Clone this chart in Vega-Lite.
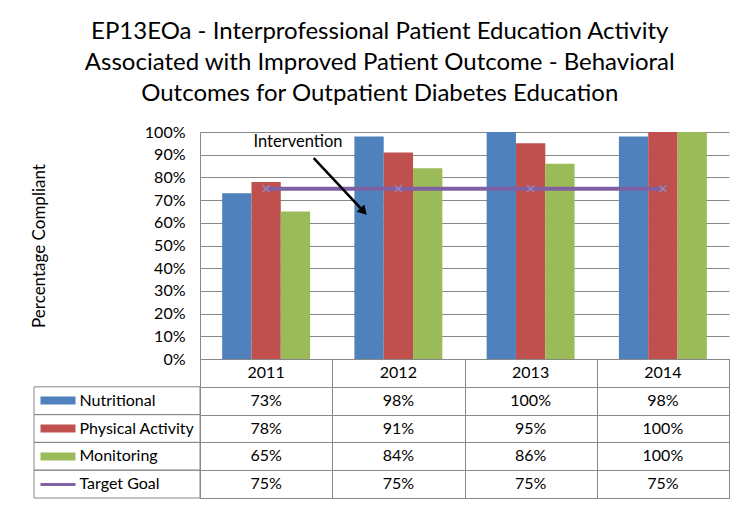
{
  "$schema": "https://vega.github.io/schema/vega-lite/v6.json",
  "background": "white",
  "padding": {"left": 30, "top": 20, "right": 18, "bottom": 10},
  "title": {
    "text": ["EP13EOa - Interprofessional Patient Education Activity", "Associated with Improved Patient Outcome - Behavioral", "Outcomes for Outpatient Diabetes Education"],
    "font": "Lato", "fontSize": 24, "fontWeight": "normal", "color": "black", "lineHeight": 31, "anchor": "middle", "offset": 18
  },
  "datasets": {
    "scores": [
      {"year": "2011", "series": "Nutritional", "value": 0.73},
      {"year": "2011", "series": "Physical Activity", "value": 0.78},
      {"year": "2011", "series": "Monitoring", "value": 0.65},
      {"year": "2011", "series": "Target Goal", "value": 0.75},
      {"year": "2012", "series": "Nutritional", "value": 0.98},
      {"year": "2012", "series": "Physical Activity", "value": 0.91},
      {"year": "2012", "series": "Monitoring", "value": 0.84},
      {"year": "2012", "series": "Target Goal", "value": 0.75},
      {"year": "2013", "series": "Nutritional", "value": 1.0},
      {"year": "2013", "series": "Physical Activity", "value": 0.95},
      {"year": "2013", "series": "Monitoring", "value": 0.86},
      {"year": "2013", "series": "Target Goal", "value": 0.75},
      {"year": "2014", "series": "Nutritional", "value": 0.98},
      {"year": "2014", "series": "Physical Activity", "value": 1.0},
      {"year": "2014", "series": "Monitoring", "value": 1.0},
      {"year": "2014", "series": "Target Goal", "value": 0.75}
    ]
  },
  "columns": 2,
  "spacing": 0,
  "bounds": "flush",
  "concat": [
    {
      "width": 166, "height": 227,
      "data": {"values": []},
      "mark": "text",
      "encoding": {}
    },
    {
      "width": 529, "height": 227,
      "data": {"name": "scores"},
      "layer": [
        {
          "transform": [{"filter": "datum.series !== 'Target Goal'"}],
          "mark": {"type": "bar"},
          "encoding": {
            "x": {"field": "year", "type": "nominal", "scale": {"paddingInner": 0.335, "paddingOuter": 0.1675}, "axis": null},
            "xOffset": {"field": "series", "type": "nominal", "sort": ["Nutritional", "Physical Activity", "Monitoring"], "scale": {"paddingInner": 0, "paddingOuter": 0}},
            "y": {
              "field": "value", "type": "quantitative", "scale": {"domain": [0, 1], "nice": false},
              "axis": {
                "values": [0, 0.1, 0.2, 0.3, 0.4, 0.5, 0.6, 0.7, 0.8, 0.9, 1],
                "tickCount": 20, "labelOverlap": false,
                "format": ".0%", "grid": true, "gridColor": "#888888", "gridWidth": 1,
                "domain": true, "domainColor": "#888888", "ticks": false, "labelPadding": 15,
                "labelFont": "Lato", "labelFontSize": 16, "labelColor": "black",
                "title": "Percentage Compliant", "titleFont": "Lato", "titleFontSize": 17, "titleFontWeight": "normal", "titleColor": "black",
                "titleX": -161, "titleY": 113.5, "titleAngle": 270, "titleAlign": "center", "titleBaseline": "middle"
              }
            },
            "color": {
              "field": "series", "type": "nominal",
              "scale": {"domain": ["Nutritional", "Physical Activity", "Monitoring", "Target Goal"], "range": ["#4f81bd", "#c0504d", "#9bbb59", "#8064a2"]},
              "legend": null
            }
          }
        },
        {
          "transform": [{"filter": "datum.series === 'Target Goal'"}],
          "mark": {"type": "line", "color": "#7f60a2", "strokeWidth": 4},
          "encoding": {
            "x": {"field": "year", "type": "nominal", "scale": {"type": "point", "padding": 0.5}, "axis": null},
            "y": {"field": "value", "type": "quantitative"}
          }
        },
        {
          "transform": [{"filter": "datum.series === 'Target Goal'"}],
          "mark": {"type": "point", "shape": "M-1,-1L1,1M-1,1L1,-1", "filled": false, "color": "#9a84bd", "strokeWidth": 1.5, "size": 50, "opacity": 1},
          "encoding": {
            "x": {"field": "year", "type": "nominal", "scale": {"type": "point", "padding": 0.5}, "axis": null},
            "y": {"field": "value", "type": "quantitative"}
          }
        },
        {
          "data": {"values": [{}]},
          "mark": {"type": "rule", "strokeWidth": 2.5, "color": "black"},
          "encoding": {
            "x": {"datum": 0.86, "type": "quantitative", "scale": {"domain": [0, 4]}, "axis": null},
            "y": {"datum": 0.885, "type": "quantitative"},
            "x2": {"datum": 1.237},
            "y2": {"datum": 0.65}
          }
        },
        {
          "data": {"values": [{}]},
          "mark": {"type": "point", "shape": "triangle-up", "angle": 137, "filled": true, "color": "black", "size": 110, "opacity": 1},
          "encoding": {
            "x": {"datum": 1.237, "type": "quantitative", "scale": {"domain": [0, 4]}, "axis": null},
            "y": {"datum": 0.65, "type": "quantitative"}
          }
        },
        {
          "data": {"values": [{}]},
          "mark": {"type": "text", "font": "Lato", "fontSize": 16.5, "color": "black", "align": "center", "baseline": "middle", "text": "Intervention"},
          "encoding": {
            "x": {"datum": 0.741, "type": "quantitative", "scale": {"domain": [0, 4]}, "axis": null},
            "y": {"datum": 0.957, "type": "quantitative"}
          }
        }
      ],
      "resolve": {"scale": {"x": "independent"}}
    },
    {
      "width": 166, "height": 139,
      "data": {"name": "scores"},
      "transform": [{"filter": "datum.year === '2011'"}],
      "mark": {"type": "rect", "fill": "transparent", "stroke": "#888888", "strokeWidth": 1},
      "encoding": {
        "y": {
          "field": "series", "type": "nominal",
          "scale": {"domain": ["header", "Nutritional", "Physical Activity", "Monitoring", "Target Goal"], "paddingInner": 0, "paddingOuter": 0},
          "axis": {
            "orient": "left", "offset": -6, "domain": false, "grid": false, "ticks": true, "tickSize": -35,
            "tickWidth": {"condition": {"test": "datum.value === 'Target Goal'", "value": 3}, "value": 8},
            "tickColor": {"condition": [
              {"test": "datum.value === 'Nutritional'", "value": "#4f81bd"},
              {"test": "datum.value === 'Physical Activity'", "value": "#c0504d"},
              {"test": "datum.value === 'Monitoring'", "value": "#9bbb59"},
              {"test": "datum.value === 'Target Goal'", "value": "#8064a2"}
            ], "value": "transparent"},
            "labelAlign": "left", "labelPadding": -4,
            "labelExpr": "datum.value === 'header' ? '' : datum.value",
            "labelFont": "Lato", "labelFontSize": 16, "labelColor": "black",
            "title": null, "zindex": 1
          }
        }
      }
    },
    {
      "width": 529, "height": 139,
      "view": {"stroke": "#888888"},
      "data": {"name": "scores"},
      "layer": [
        {
          "mark": {"type": "text", "font": "Lato", "fontSize": 16, "color": "black"},
          "encoding": {
            "x": {"field": "year", "type": "nominal", "scale": {"paddingInner": 0, "paddingOuter": 0},
                  "axis": {"labels": false, "ticks": false, "domain": false, "grid": true, "gridColor": "#888888", "tickBand": "extent", "title": null}},
            "y": {"field": "series", "type": "nominal",
                  "scale": {"domain": ["header", "Nutritional", "Physical Activity", "Monitoring", "Target Goal"], "paddingInner": 0, "paddingOuter": 0},
                  "axis": {"labels": false, "ticks": false, "domain": false, "grid": true, "gridColor": "#888888", "tickBand": "extent", "title": null}},
            "text": {"field": "value", "type": "quantitative", "format": ".0%"}
          }
        },
        {
          "transform": [{"filter": "datum.series === 'Nutritional'"}],
          "mark": {"type": "text", "font": "Lato", "fontSize": 16, "color": "black"},
          "encoding": {
            "x": {"field": "year", "type": "nominal"},
            "y": {"datum": "header", "type": "nominal"},
            "text": {"field": "year", "type": "nominal"}
          }
        }
      ]
    }
  ],
  "config": {"view": {"stroke": null}, "font": "Lato"}
}
